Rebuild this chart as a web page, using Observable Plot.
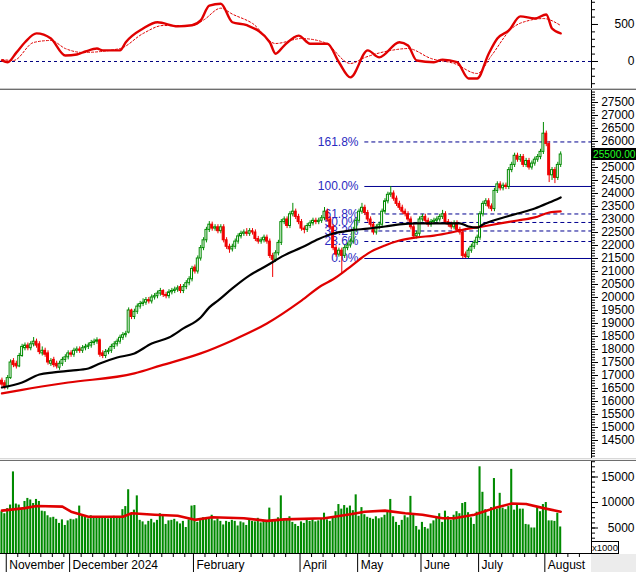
<!DOCTYPE html>
<html><head><meta charset="utf-8">
<script src="https://cdn.jsdelivr.net/npm/d3@7"></script>
<script src="https://cdn.jsdelivr.net/npm/@observablehq/plot@0.6"></script>
<style>
body{margin:0;background:#fff;font-family:"Liberation Sans",Arial,sans-serif}
#wrap{position:relative;width:636px;height:572px;overflow:hidden;background:#fff}
#wrap svg{display:block}
.sep1{height:2px;background:linear-gradient(#c8c8c8 0 50%,#6e6e6e 50% 100%)}
.sep2{height:3px;background:linear-gradient(#d8d8d8 0 33%,#f4f4f4 33% 66%,#6e6e6e 66% 100%)}
</style></head>
<body><div id="wrap"></div>
<script>
// ---------- DATA ----------
const open = [16800,16700,16550,16900,17550,17450,17350,17750,18050,18150,
18050,18200,18300,18200,17850,17950,17850,17450,17600,17450,
17300,17450,17600,17700,17850,17800,17950,18000,17950,18050,
18100,18150,18250,18300,18350,17850,17750,17900,17950,18100,
18200,18300,18450,18550,18650,19500,19250,19450,19650,19750,
19800,19900,19850,20000,20050,20150,20250,20100,20050,20200,
20250,20300,20400,20250,20400,20550,20700,21150,21000,21500,
21900,22200,22600,22800,22650,22700,22550,22700,22200,21950,
21850,21950,22150,22350,22450,22500,22450,22550,22500,22250,
22150,22200,22300,22150,21600,21450,21700,22100,22900,23000,
22750,23200,23300,23100,22900,22650,22600,22750,22850,22950,
22900,22950,23050,23300,23000,22700,21900,21650,21800,21600,
21900,22000,22150,22600,22950,23300,23450,23250,23000,22800,
22500,22700,22800,23300,23700,23950,24000,23800,23600,23450,
23300,23200,23000,22700,22350,22450,23000,23100,22950,22800,
22900,22950,23000,23100,23200,22900,22800,22700,22850,22600,
22500,21650,21550,21800,21950,22100,22300,23200,23600,23700,
23500,23400,24100,24350,24200,24300,24250,24900,25100,25450,
25300,25400,25100,25250,25000,25150,25300,25400,25600,26300,
25900,24700,24900,24600,25100];
const close = [16650,16550,16900,17500,17400,17350,17750,18100,18150,18050,
18200,18300,18150,17900,17950,17800,17500,17550,17400,17350,
17450,17600,17700,17850,17800,17950,18000,17950,18050,18100,
18150,18250,18300,18350,17800,17750,17900,17950,18100,18200,
18300,18450,18550,18600,19500,19250,19450,19650,19750,19800,
19900,19850,20000,20050,20150,20250,20100,20050,20200,20250,
20300,20350,20250,20400,20550,20700,21100,21000,21500,21900,
22200,22600,22800,22650,22700,22550,22700,22200,21950,21850,
21950,22150,22350,22450,22500,22450,22550,22500,22250,22150,
22200,22300,22150,21600,21450,21700,22100,22900,23000,22750,
23200,23300,23100,22900,22650,22600,22750,22850,22950,22900,
22950,23050,23300,23000,22700,21900,21650,21800,21600,21900,
22000,22150,22600,22950,23300,23450,23250,23000,22800,22500,
22700,22800,23300,23700,23950,24000,23800,23600,23450,23300,
23200,23000,22700,22350,22450,23000,23100,22950,22800,22900,
22950,23000,23100,23200,22900,22800,22700,22850,22600,22500,
21600,21550,21800,21950,22100,22300,23200,23600,23700,23500,
23400,24100,24350,24200,24300,24250,24900,25100,25450,25300,
25400,25100,25250,25000,25150,25300,25400,25600,26300,25900,
24700,24900,24600,25100,25500];
const high = [16900,16800,17000,17600,17650,17550,17850,18200,18250,18250,
18300,18460,18400,18300,18100,18050,17950,17650,17700,17550,
17550,17700,17800,17950,17950,18050,18100,18100,18150,18200,
18250,18350,18400,18450,18400,17950,18000,18050,18200,18300,
18400,18550,18650,18700,19600,19550,19550,19750,19850,19950,
20000,20000,20100,20150,20250,20350,20300,20200,20300,20350,
20400,20450,20500,20500,20650,20800,21200,21250,21600,22000,
22300,22700,22920,22900,22800,22800,22800,22800,22300,22050,
22050,22250,22450,22550,22600,22650,22650,22650,22600,22350,
22300,22400,22400,22250,21700,21800,22200,23000,23100,23100,
23300,23620,23400,23200,23000,22750,22850,22950,23050,23050,
23050,23150,23460,23400,23100,22800,22000,21900,21900,22000,
22100,22250,22700,23050,23400,23620,23550,23350,23100,22900,
22800,22900,23400,23800,24050,24270,24100,23900,23700,23550,
23400,23300,23100,22800,22550,23100,23200,23200,23050,23000,
23050,23100,23200,23350,23300,23000,22900,22950,22950,22700,
22600,21750,21900,22050,22200,22400,23300,23700,23800,23800,
23600,24200,24450,24450,24400,24400,25000,25200,25550,25550,
25500,25500,25350,25350,25250,25400,25500,25700,26730,26400,
26000,25000,25000,25200,25600];
const low = [16550,16450,16450,16850,17300,17250,17300,17700,17950,17950,
17950,18100,18050,17800,17750,17700,17400,17350,17300,17250,
17200,17350,17500,17600,17700,17700,17850,17850,17850,17950,
18000,18050,18150,18200,17700,17650,17650,17800,17850,18000,
18100,18200,18350,18450,18600,19150,19150,19350,19550,19650,
19700,19750,19750,19900,19950,20050,20000,19950,19950,20100,
20150,20200,20150,20150,20300,20450,20600,20900,20900,21400,
21800,22100,22500,22550,22550,22450,22450,22100,21850,21700,
21750,21850,22050,22250,22350,22350,22350,22400,22150,22050,
22050,22100,22050,21500,20770,21350,21600,22000,22800,22650,
22650,23100,23000,22800,22550,22450,22500,22650,22750,22800,
22800,22850,22950,22900,22600,21800,21550,21550,20900,21500,
21800,21900,22050,22500,22850,23200,23150,22900,22700,22400,
22400,22600,22700,23200,23600,23850,23700,23500,23350,23200,
23100,22900,22600,22250,22250,22350,22900,22850,22700,22700,
22800,22850,22900,23000,22800,22700,22600,22600,22500,22400,
21500,21500,21500,21700,21850,22000,22200,23100,23500,23400,
23300,23300,24000,24100,24100,24150,24150,24800,25000,25200,
25200,25000,25000,24900,24900,25050,25200,25300,25500,25800,
24420,24500,24380,24500,25000];
const volume = [8200,7800,8800,9500,16000,9700,9500,8600,10200,10800,
10500,9800,10600,10200,8300,8200,7400,7000,7100,6700,
5900,6600,5500,6400,6700,6600,6800,9300,7600,7200,
6800,7400,7100,6900,7200,6900,7000,6800,7100,7300,
6900,7200,8600,9200,12500,7800,8500,11300,6500,6200,
5600,6300,6700,6000,6500,7800,7300,5700,6400,6500,
6700,6200,5800,6300,5100,6600,9300,9400,6100,6800,
7000,6700,6900,7500,6400,6800,6300,5600,6300,6100,
6500,6300,5400,6200,6000,5500,6500,6300,6200,6900,
6000,6300,6400,8900,6300,6400,7000,11300,6600,6500,
7200,6100,5700,5300,6200,5900,6800,6300,6600,6200,
6400,6800,7900,6600,6300,6900,8200,9600,8700,9400,
8900,9300,8400,11500,7300,9000,7600,7100,6900,6700,
7200,6800,7000,7500,8300,10600,7200,6100,5500,6500,
7400,7000,11200,7800,5300,4600,6100,5100,4800,5800,
6400,6900,7800,6100,8300,7200,6500,7500,8200,7800,
9800,10000,8000,7000,5700,8100,17000,12000,8600,7300,
9000,14700,8700,11800,8900,8600,9200,16500,8500,9600,
8700,8700,5700,5600,5000,5000,9000,8200,9600,10000,
6400,6400,6300,7900,5200];

// moving averages (candle index, value)
const maBlackIdx = [0,7,13,18,24,30,34,40,46,52,58,63,69,72,75,80,86,92,98,104,110,115,121,127,133,138,144,150,156,159,162,165,167,173,179,185,190,194];
const maBlackVal = [16540,16730,17040,17120,17190,17270,17460,17690,17850,18230,18460,18810,19230,19620,19880,20350,20850,21230,21620,21920,22250,22460,22580,22650,22730,22810,22850,22850,22850,22850,22730,22690,22810,23040,23230,23420,23650,23850];
const maRedIdx = [0,7,23,46,55,69,80,92,104,111,115,120,124,127,133,138,144,150,156,162,167,173,179,185,190,194];
const maRedVal = [16310,16450,16730,17080,17380,17850,18350,19000,19880,20460,20700,21100,21450,21690,22000,22190,22310,22380,22500,22650,22730,22850,22960,23080,23270,23310];
const volMaIdx = [0,8,12,21,24,30,42,45,53,61,67,73,84,92,98,112,121,126,133,140,146,153,157,164,171,177,182,188,194];
const volMaVal = [8400,8900,9300,9200,8200,7200,7200,7900,7600,7400,6600,7100,6900,6400,6700,6900,7700,8200,8400,7900,7600,6900,6900,7600,8900,9800,9700,8900,8200];

// oscillator (top panel)
const oscIdx = [0,2,5,8,12,17,22,26,29,33,35,41,43,49,54,61,66,69,72,76,80,85,93,95,98,103,107,113,117,121,127,131,138,141,144,150,153,158,162,165,169,172,176,180,185,189,191,194];
const oscVal = [14,-10,120,260,380,310,80,95,135,175,150,150,260,445,530,475,490,555,755,780,530,490,260,105,215,350,240,240,-10,-215,150,55,260,215,14,-10,25,-10,-230,-230,105,310,420,610,580,635,445,380];
const sigIdx = [0,4,11,17,22,28,41,49,56,66,70,76,80,87,95,104,112,121,126,135,141,149,157,165,170,177,183,188,194];
const sigVal = [27,14,257,284,175,122,175,378,486,486,560,720,640,514,243,310,257,-27,54,149,175,40,-27,-162,81,446,554,580,486];

// Fibonacci levels
const fibLabels = ["0.0%","23.6%","38.2%","50.0%","61.8%","100.0%","161.8%"];
const fibPrices = [21500,22154,22558,22885,23212,24270,25982];
const fibDashed = [false,true,true,true,true,false,true];

// x-axis (month boundaries as candle positions)
const monthPos = [1.5,23.5,66.5,103.5,123.5,145.5,165.5,188.5];
const monthLabels = ["November","December 2024","February","April","May","June","July","August"];
const lastLabel = "25500.00";

// ---------- BUILD ----------
const N = close.length;
const XMAX = 204.7;
const GREEN = "#008a00", RED = "#f00000";
const candles = d3.range(N).map(i => ({i, o: open[i], h: high[i], l: low[i], c: close[i], v: volume[i], up: close[i] >= open[i]}));
const pts = (I, V) => I.map((i, k) => ({i, v: V[k]}));
const fib = fibLabels.map((t, k) => ({t, p: fibPrices[k], dash: fibDashed[k]}));

const font = {fontSize: "12px", fontFamily: "'Liberation Sans', Arial, sans-serif", background: "white", overflow: "visible"};
const common = {width: 636, marginLeft: 0, marginRight: 45, x: {domain: [-0.5, XMAX], axis: null}, style: font};
const blank = () => "";

// minor x ticks
const ends = monthPos.concat([XMAX]);
const minorX = [];
for (let k = 0; k < monthPos.length; k++) for (let t = monthPos[k] + 4; t < ends[k + 1] - 1.5; t += 4) minorX.push(t);

const osc = Plot.plot({
  ...common, height: 88, marginTop: 0, marginBottom: 0,
  y: {domain: [-365, 824], axis: null},
  marks: [
    Plot.ruleY([0], {stroke: "#000080", strokeDasharray: "3,3"}),
    Plot.line(pts(sigIdx, sigVal), {x: "i", y: "v", stroke: "#e00000", strokeWidth: 1, strokeDasharray: "2,2", curve: "monotone-x"}),
    Plot.line(pts(oscIdx, oscVal), {x: "i", y: "v", stroke: "#e00000", strokeWidth: 2.4, curve: "monotone-x"}),
    Plot.ruleX([XMAX], {stroke: "black"}),
    Plot.axisY({anchor: "right", label: null, ticks: d3.range(-300, 801, 100), tickSize: 3, tickFormat: blank}),
    Plot.axisY({anchor: "right", label: null, ticks: [0, 500], tickSize: 6, tickPadding: 37, textAnchor: "end", tickFormat: d3.format("d")})
  ]
});

const main = Plot.plot({
  ...common, height: 368, marginTop: 0, marginBottom: 0,
  y: {domain: [13808, 27961], axis: null},
  marks: [
    Plot.text(fib, {x: 123.8, y: "p", text: "t", textAnchor: "end", fill: "#2a2ac0", fontSize: 12}),
    Plot.ruleY(fib.filter(d => !d.dash), {y: "p", x1: 126, x2: XMAX, stroke: "#000090"}),
    Plot.ruleY(fib.filter(d => d.dash), {y: "p", x1: 126, x2: XMAX, stroke: "#000090", strokeDasharray: "4,3"}),
    Plot.ruleX(candles, {x: "i", y1: "l", y2: "h", stroke: d => d.up ? GREEN : RED}),
    Plot.rect(candles, {x1: d => d.i - 0.34, x2: d => d.i + 0.34, y1: "o", y2: "c", fill: d => d.up ? "white" : RED, stroke: d => d.up ? GREEN : RED, strokeWidth: 1}),
    Plot.line(pts(maRedIdx, maRedVal), {x: "i", y: "v", stroke: "#e00000", strokeWidth: 2.2, curve: "monotone-x"}),
    Plot.line(pts(maBlackIdx, maBlackVal), {x: "i", y: "v", stroke: "black", strokeWidth: 2.2, curve: "monotone-x"}),
    Plot.ruleX([XMAX], {stroke: "black"}),
    Plot.axisY({anchor: "right", label: null, ticks: d3.range(13900, 27901, 100), tickSize: 3, tickFormat: blank}),
    Plot.axisY({anchor: "right", label: null, ticks: d3.range(14500, 27501, 500).filter(v => v !== 25500), tickSize: 6, tickPadding: 37, textAnchor: "end", tickFormat: d3.format("d")})
  ]
});

const vol = Plot.plot({
  ...common, height: 111, marginTop: 0, marginBottom: 19,
  y: {domain: [0, 18040], axis: null},
  marks: [
    Plot.rectY(candles, {x1: d => d.i - 0.36, x2: d => d.i + 0.36, y: "v", fill: GREEN}),
    Plot.line(pts(volMaIdx, volMaVal), {x: "i", y: "v", stroke: "#e00000", strokeWidth: 2.6}),
    Plot.ruleY([0], {stroke: "black"}),
    Plot.ruleX([XMAX], {y1: 1500, y2: 18040, stroke: "black"}),
    Plot.axisY({anchor: "right", label: null, ticks: d3.range(2000, 18001, 1000), tickSize: 3, tickFormat: blank}),
    Plot.axisY({anchor: "right", label: null, ticks: [5000, 10000, 15000], tickSize: 6, tickPadding: 37, textAnchor: "end", tickFormat: d3.format("d")}),
    Plot.axisX({label: null, ticks: minorX, tickSize: 4, tickFormat: blank}),
    Plot.axisX({label: null, ticks: monthPos, tickSize: 19, tickFormat: blank}),
    Plot.axisX({label: null, ticks: monthPos, tickSize: 0, tickPadding: 7, textAnchor: "start", dx: 3, fontSize: 12,
      tickFormat: d => monthLabels[monthPos.indexOf(d)]})
  ]
});

const wrap = document.getElementById("wrap");
wrap.append(osc);
const s1 = document.createElement("div"); s1.className = "sep1"; wrap.append(s1);
wrap.append(main);
const s2 = document.createElement("div"); s2.className = "sep2"; wrap.append(s2);
wrap.append(vol);

// last price box on the main panel's axis (covers the 25500 tick label, as in the reference)
const yLast = main.scale("y").apply(close[N - 1]);
const g = d3.select(main).append("g");
g.append("rect").attr("x", 592).attr("y", yLast - 6).attr("width", 44).attr("height", 12).attr("fill", "#000");
g.append("text").attr("x", 593).attr("y", yLast + 3.8).attr("fill", "#22ff22")
  .attr("font-size", 10.2).attr("text-anchor", "start").text(lastLabel);

// corner details of the volume panel
const gray = document.createElement("div");
gray.style.cssText = "position:absolute;left:591px;top:554px;width:45px;height:18px;background:#ececec";
wrap.append(gray);
const unit = document.createElement("div");
unit.textContent = "x1000";
unit.style.cssText = "position:absolute;left:591px;top:541px;width:26px;height:11px;border:1px solid #000;background:#fff;font:9.5px 'Liberation Sans',Arial,sans-serif;line-height:11px;text-align:center;box-sizing:content-box";
wrap.append(unit);
</script></body></html>
